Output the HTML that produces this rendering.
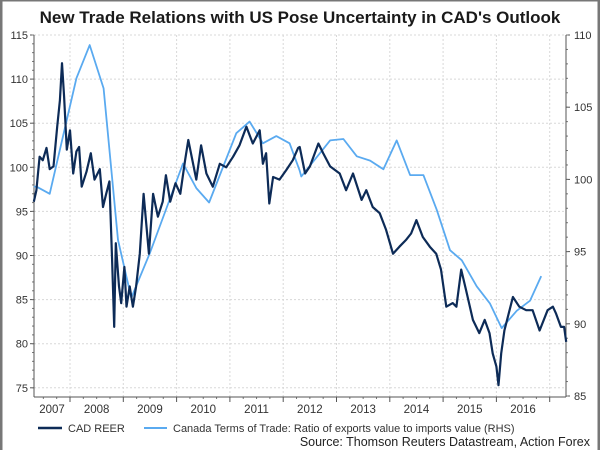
<!DOCTYPE html>
<html><head><meta charset="utf-8">
<style>
html,body{margin:0;padding:0;background:#fff;}
#wrap{position:relative;width:600px;height:450px;overflow:hidden;font-family:"Liberation Sans",sans-serif;}
</style></head>
<body>
<div id="wrap">
<svg id="chart" width="600" height="450" xmlns="http://www.w3.org/2000/svg">
<rect x="1" y="0" width="598" height="452" fill="#fff" stroke="#777" stroke-width="3"/>
<text x="300" y="23" text-anchor="middle" font-size="17" font-weight="bold" fill="#1a1a1a">New Trade Relations with US Pose Uncertainty in CAD's Outlook</text>
<g id="grid"></g>
<g id="axes"></g>
<g id="series"></g>
<g>
<line x1="38" y1="428" x2="62" y2="428" stroke="#0d2b57" stroke-width="2.5"/>
<text x="68" y="432" font-size="11" fill="#333">CAD REER</text>
<line x1="144" y1="428" x2="167" y2="428" stroke="#5aaaf0" stroke-width="2"/>
<text x="173" y="432" font-size="11" fill="#333">Canada Terms of Trade: Ratio of exports value to imports value (RHS)</text>
</g>
<text x="590" y="446" text-anchor="end" font-size="12.5" fill="#222">Source: Thomson Reuters Datastream, Action Forex</text>
</svg>
</div>
<script>
const leftTicks=[75,80,85,90,95,100,105,110,115];
const rightTicks=[85,90,95,100,105,110];
const yearLabels=[2007,2008,2009,2010,2011,2012,2013,2014,2015,2016];
const reerT=[2007.32,2007.37,2007.43,2007.49,2007.56,2007.62,2007.69,2007.76,2007.81,2007.85,2007.89,2007.94,2008.0,2008.06,2008.12,2008.17,2008.22,2008.31,2008.39,2008.46,2008.56,2008.62,2008.68,2008.74,2008.79,2008.83,2008.86,2008.92,2008.96,2009.02,2009.06,2009.12,2009.18,2009.24,2009.31,2009.38,2009.48,2009.56,2009.65,2009.74,2009.8,2009.88,2009.98,2010.07,2010.16,2010.22,2010.37,2010.46,2010.56,2010.68,2010.81,2010.93,2011.06,2011.18,2011.31,2011.43,2011.56,2011.62,2011.68,2011.74,2011.81,2011.93,2012.06,2012.18,2012.28,2012.31,2012.41,2012.5,2012.66,2012.75,2012.88,2013.06,2013.18,2013.31,2013.47,2013.56,2013.68,2013.81,2013.93,2014.06,2014.18,2014.31,2014.4,2014.5,2014.62,2014.75,2014.87,2014.96,2015.06,2015.18,2015.25,2015.34,2015.43,2015.56,2015.68,2015.78,2015.87,2015.93,2016.0,2016.04,2016.09,2016.15,2016.31,2016.43,2016.56,2016.68,2016.81,2016.96,2017.06,2017.12,2017.21,2017.27,2017.31];
const reerV=[96.1,97.4,101.2,100.8,102.2,99.8,100.1,104.6,107.6,111.8,108,102,104.2,99.3,101.8,102.3,97.8,99.5,101.6,98.6,99.8,95.5,97,98.4,89.5,81.9,91.4,86.5,84.6,88.7,84.2,86.5,84.2,86.5,90.2,97,90.2,97,94.4,96.1,99.1,96.1,98.2,97,100.8,103.1,98.6,102.5,99.3,97.8,100.4,100,101.2,102.5,104.6,102.7,104.2,100.4,101.6,95.9,98.9,98.6,99.7,100.8,102.2,102.3,99.3,100.1,102.7,101.6,100.1,99.3,97.4,99.3,96.3,97.4,95.5,94.8,92.9,90.2,91,91.8,92.5,94,92.1,91,90.2,88.4,84.2,84.6,84.2,88.4,86.1,82.7,81.2,82.7,81.2,78.9,77.4,75.3,78.9,81.5,85.3,84.2,83.8,83.8,81.5,83.8,84.2,83.4,81.9,81.9,80.2];
const totT=[2007.32,2007.37,2007.62,2008.12,2008.37,2008.63,2008.9,2009.15,2009.5,2010.12,2010.37,2010.61,2011.12,2011.37,2011.62,2011.87,2012.12,2012.31,2012.34,2012.88,2013.13,2013.38,2013.63,2013.88,2014.13,2014.38,2014.63,2014.88,2015.13,2015.35,2015.63,2015.88,2016.1,2016.38,2016.63,2016.84];
const totV=[99.5,99.5,99.0,107.0,109.3,106.3,95.8,91.8,94.9,101.1,99.4,98.4,103.2,104.0,102.5,103.0,102.5,100.6,100.2,102.7,102.8,101.6,101.3,100.7,102.7,100.3,100.3,97.9,95.1,94.4,92.6,91.4,89.7,90.9,91.6,93.3];

const X0=34,X1=566,Y0=35,YB=397;
const xs=t=>70+(t-2008)*53.3;
const yl=v=>35+(115-v)*8.82;
const yr=v=>35+(110-v)*14.44;
const NS="http://www.w3.org/2000/svg";
function mk(tag,attrs,parent){const e=document.createElementNS(NS,tag);for(const k in attrs)e.setAttribute(k,attrs[k]);parent.appendChild(e);return e;}
const grid=document.getElementById('grid'),axes=document.getElementById('axes'),series=document.getElementById('series');
leftTicks.forEach(v=>{
 const y=yl(v);
 const g=mk('line',{x1:X0,x2:X1,y1:y,y2:y,stroke:'#d8d8d8','stroke-width':1,'stroke-dasharray':'2,2'},grid);
 
 
 const tk=mk('line',{x1:X0-4,x2:X0,y1:y,y2:y,stroke:'#555'},axes);
 
 
 const t=mk('text',{x:X0-6,y:y+4,'text-anchor':'end','font-size':11,fill:'#333'},axes);
 t.textContent=v;
 
 
});
for(let v=75;v<=115;v+=1){const y=yl(v);const m=mk('line',{x1:X0-2,x2:X0,y1:y,y2:y,stroke:'#777'},axes);
 
 }
rightTicks.forEach(v=>{
 const y=yr(v);
 const tk=mk('line',{x1:X1,x2:X1+4,y1:y,y2:y,stroke:'#555'},axes);
 
 
 const t=mk('text',{x:X1+8,y:y+4,'font-size':11,fill:'#333'},axes);
 t.textContent=v;
 
 
});
for(let v=85;v<=110;v+=1){const y=yr(v);const m=mk('line',{x1:X1,x2:X1+2,y1:y,y2:y,stroke:'#777'},axes);
 
 }
yearLabels.forEach(yr0=>{
 const xe=xs(yr0+1);
 if(xe<X1){const g=mk('line',{x1:xe,x2:xe,y1:Y0,y2:YB,stroke:'#d8d8d8','stroke-dasharray':'2,2'},grid);
 
 
 const tk=mk('line',{x1:xe,x2:xe,y1:YB,y2:YB+5,stroke:'#555'},axes);
 
 }
 for(let q=0.25;q<1;q+=0.25){const xq=xs(yr0+q);if(xq>X0&&xq<X1){const m=mk('line',{x1:xq,x2:xq,y1:YB,y2:YB+2,stroke:'#777'},axes);
 
 }}
 const t=mk('text',{x:Math.max(xs(yr0+0.5),52),y:413,'text-anchor':'middle','font-size':11.5,fill:'#333'},axes);
 t.textContent=yr0;
 
 
});
const ax1=mk('line',{x1:X0,x2:X0,y1:Y0,y2:YB,stroke:'#555'},axes);


const ax2=mk('line',{x1:X1,x2:X1,y1:Y0,y2:YB,stroke:'#555'},axes);


const ax3=mk('line',{x1:X0,x2:X1,y1:YB,y2:YB,stroke:'#555'},axes);


const totPts=totT.map((t,i)=>xs(t).toFixed(1)+','+yr(totV[i]).toFixed(1)).join(' ');
const p2=mk('polyline',{points:totPts,fill:'none',stroke:'#5aaaf0','stroke-width':1.8,'stroke-linejoin':'round'},series);


const reerPts=reerT.map((t,i)=>xs(t).toFixed(1)+','+yl(reerV[i]).toFixed(1)).join(' ');
const p1=mk('polyline',{points:reerPts,fill:'none',stroke:'#0d2b57','stroke-width':2.2,'stroke-linejoin':'round'},series);


</script>
</body></html>
